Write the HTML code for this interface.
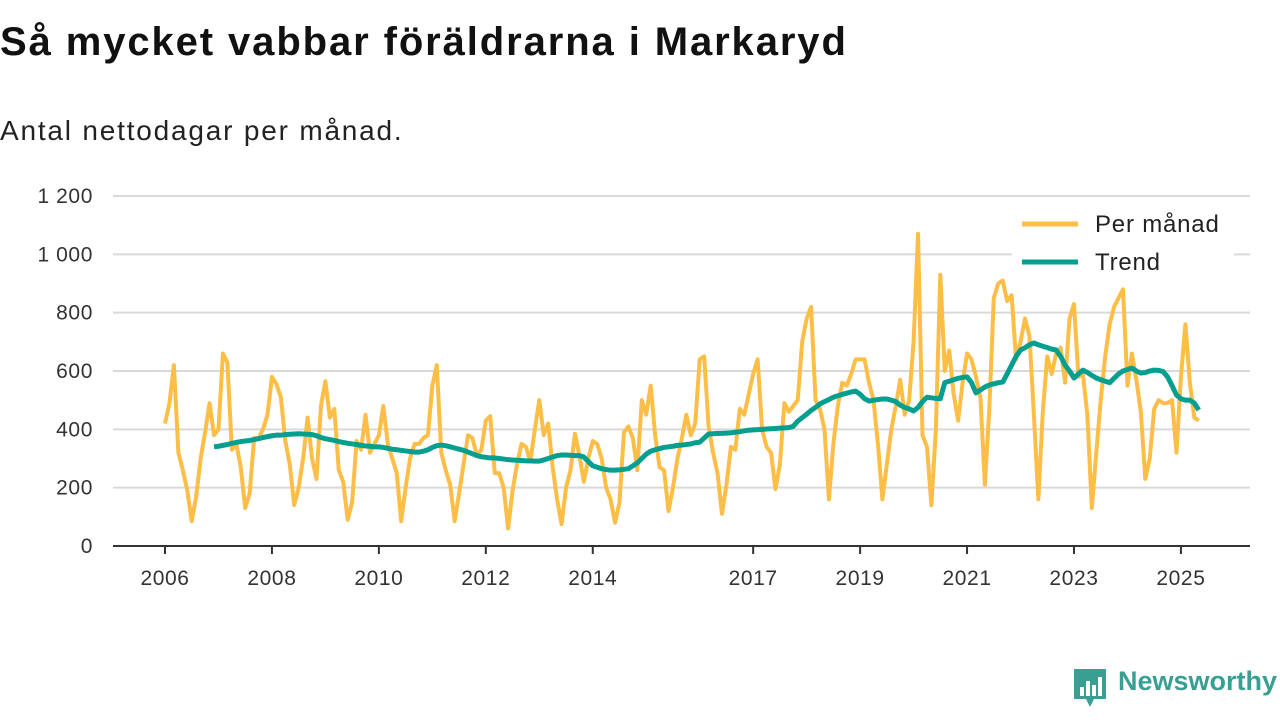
<!DOCTYPE html>
<html><head><meta charset="utf-8">
<style>
body{margin:0;width:1280px;height:720px;background:#fff;overflow:hidden;font-family:"Liberation Sans",sans-serif;}
#title{position:absolute;left:0;top:20px;font-size:40px;font-weight:bold;color:#111;letter-spacing:1.9px}
#sub{position:absolute;left:0;top:115px;font-size:28px;color:#222;letter-spacing:1.8px}
#logo{position:absolute;left:1118px;top:666px;font-size:27px;font-weight:bold;color:#3a9f93}
</style></head><body>
<div id="title">Så mycket vabbar föräldrarna i Markaryd</div>
<div id="sub">Antal nettodagar per månad.</div>
<svg id="chart" width="1280" height="720" style="position:absolute;left:0;top:0"></svg>
<svg width="36" height="42" style="position:absolute;left:1072px;top:667px">
<path d="M2 2 H34 V32 H22 L18 40 L14 32 H2 Z" fill="#3a9f93"/>
<rect x="8" y="20" width="4" height="9" fill="#fff"/><rect x="14" y="14" width="4" height="15" fill="#fff"/><rect x="20" y="18" width="4" height="11" fill="#fff"/><rect x="26" y="10" width="4" height="19" fill="#fff"/>
</svg>
<div id="logo">Newsworthy</div>
<script>
const yTicks=[0,200,400,600,800,1000,1200];
const yTickLabels=["0","200","400","600","800","1 000","1 200"];
const xTickYears=[2006,2008,2010,2012,2014,2017,2019,2021,2023,2025];
const legendLabels=["Per månad","Trend"];
const startYear=2006;
const monthly=[
420,490,620,320,260,190,85,170,300,390,490,380,
400,660,630,330,350,270,130,180,370,370,400,450,
580,555,510,360,280,140,200,300,440,300,230,480,
565,440,470,260,220,90,150,360,330,450,320,350,
380,480,350,300,250,85,200,300,350,350,370,380,
550,620,320,260,210,85,180,280,380,370,310,330,
430,445,250,250,200,60,190,280,350,340,290,400,
500,380,420,270,160,75,200,260,385,310,220,300,
360,350,300,200,160,80,150,390,410,370,260,500,
450,550,380,270,260,120,200,300,370,450,380,420,
640,650,410,320,250,110,210,340,330,470,450,520,
590,640,400,340,320,195,280,490,460,480,500,700,
780,820,500,470,400,160,350,480,560,550,590,640,
640,640,560,500,350,160,280,400,480,570,450,500,
700,1070,380,340,140,400,930,600,670,520,430,560,
660,640,580,510,210,470,850,900,910,840,860,640,
700,780,720,450,160,460,650,590,660,680,560,780,
830,580,590,450,130,320,500,650,760,820,850,880,
550,660,570,460,230,300,470,500,490,490,500,320,
580,760,560,440,430];
const trendStart=11;
const trend=[340,
342,345,348,352,355,358,360,362,365,368,372,375,
378,380,380,382,383,384,385,384,383,382,378,372,
368,365,362,358,355,352,350,348,345,343,342,340,
340,338,335,332,330,328,326,324,322,322,325,330,
338,344,346,344,340,336,332,328,322,316,310,306,
304,302,302,300,298,296,295,294,293,292,292,291,
291,295,300,305,310,312,312,311,310,310,305,290,
275,270,265,262,260,260,261,263,265,275,285,300,
315,325,330,334,338,340,342,345,346,348,350,354,
356,370,384,385,386,386,387,388,390,392,395,397,
398,399,400,401,402,403,404,405,406,410,428,440,
452,465,475,487,495,502,510,515,520,524,528,531,
520,505,497,500,502,504,504,500,495,483,475,470,
463,475,495,510,508,506,505,560,565,570,575,578,
580,560,525,535,545,552,556,560,562,590,620,650,
672,680,690,696,690,685,680,675,672,650,620,600,
576,590,603,595,585,576,570,565,560,575,590,600,
605,610,600,593,595,600,603,602,598,580,550,518,
505,500,500,490,466];
const NS="http://www.w3.org/2000/svg";
const svg=document.getElementById('chart');
const X0=165,PXY=53.47,Y0=546,PXV=350/1200;
const xm=m=>X0+PXY*m/12;
const yv=v=>Y0-v*PXV;
function mk(t,a){const e=document.createElementNS(NS,t);for(const k in a)e.setAttribute(k,a[k]);svg.appendChild(e);return e;}
yTicks.forEach((v,i)=>{
 if(v>0){const g=mk('line',{x1:113,x2:1250,y1:yv(v),y2:yv(v),stroke:'#d9d9d9','stroke-width':2});
 
 }
 const t=mk('text',{x:93,y:yv(v)+7,'text-anchor':'end','font-size':21,fill:'#333','font-family':'Liberation Sans, sans-serif','letter-spacing':0.6});
 t.textContent=yTickLabels[i];
 
 
});
const ax=mk('line',{x1:113,x2:1250,y1:Y0,y2:Y0,stroke:'#333','stroke-width':2});


xTickYears.forEach(yr=>{
 const x=xm((yr-startYear)*12);
 const tk=mk('line',{x1:x,x2:x,y1:Y0,y2:Y0+8,stroke:'#333','stroke-width':2});
 
 
 const t=mk('text',{x:x,y:585,'text-anchor':'middle','font-size':21,fill:'#333','font-family':'Liberation Sans, sans-serif','letter-spacing':0.6});
 t.textContent=yr;
 
 
});
const p1=mk('polyline',{points:monthly.map((v,i)=>xm(i)+','+yv(v)).join(' '),fill:'none',stroke:'#fdbe47','stroke-width':4,'stroke-linejoin':'round'});


const p2=mk('polyline',{points:trend.map((v,i)=>xm(i+trendStart)+','+yv(v)).join(' '),fill:'none',stroke:'#069e8e','stroke-width':5,'stroke-linejoin':'round'});


const bg=mk('rect',{x:1012,y:203,width:222,height:80,fill:'#fff'});


const cols=['#fdbe47','#069e8e'];
legendLabels.forEach((l,i)=>{
 const y=224+i*38;
 const ln=mk('line',{x1:1022,x2:1078,y1:y,y2:y,stroke:cols[i],'stroke-width':5});
 
 
 const t=mk('text',{x:1095,y:y+8,'font-size':24,fill:'#222','font-family':'Liberation Sans, sans-serif','letter-spacing':0.8});
 t.textContent=l;
 
 
});
</script>
</body></html>
